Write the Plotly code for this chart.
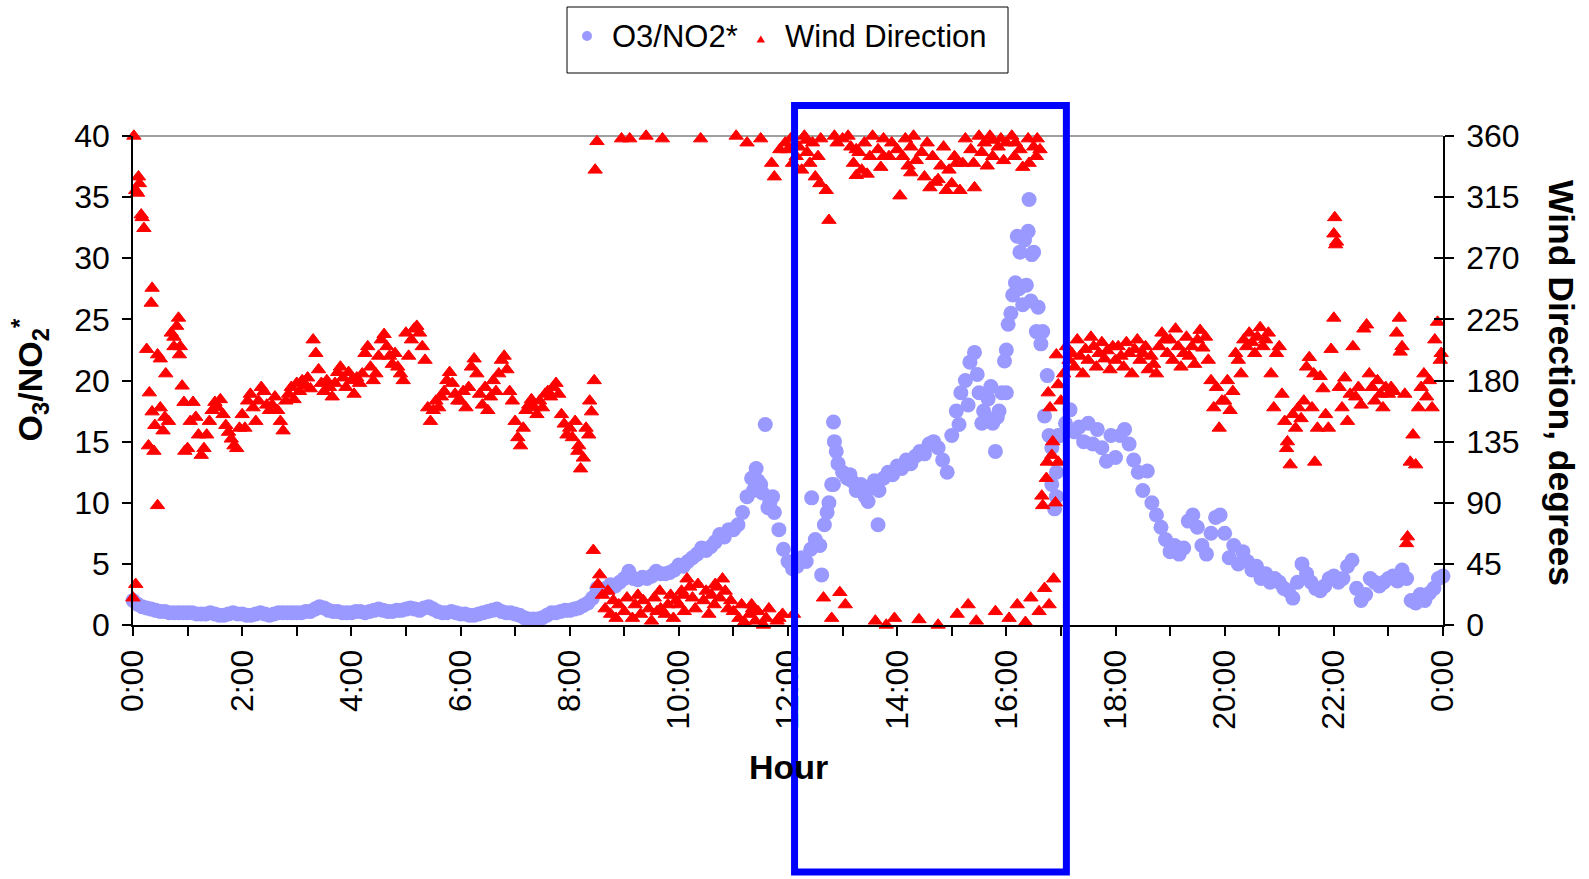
import plotly.graph_objects as go

# ---------------- data ----------------
# wind direction (degrees), one reading every 3 minutes from 0:00
WIND_STEP_MIN = 3
wind_direction = [
    # 0:00
    20, 320, 330, 302, 292, 203, 171, 248, 147, 199, 160, 143, 185, 150, 215, 205, 220, 199, 176, 128,
    # 1:00
    130, 150, 164, 153, 140, 125, 130, 140, 150, 158, 164, 160, 166, 155, 147, 142, 137, 132, 130, 145,
    # 2:00
    155, 145, 165, 170, 160, 150, 165, 175, 172, 162, 158, 162, 168, 158, 150, 143, 165, 170, 175, 166,
    # 3:00
    178, 172, 180, 176, 182, 174, 210, 200, 188, 178, 172, 180, 175, 168, 178, 186, 190, 182, 175, 186,
    # 4:00
    180, 170, 182, 178, 185, 200, 205, 190, 180, 185, 198, 210, 214, 205, 198, 192, 200, 190, 185, 180,
    # 5:00
    215, 198, 210, 218, 220, 215, 205, 195, 160, 150, 158, 165, 160, 168, 172, 180, 186, 178, 170, 165,
    # 6:00
    165, 172, 160, 175, 190, 196, 185, 170, 162, 175, 158, 168, 180, 172, 185, 195, 198, 188, 172, 165,
    # 7:00
    150, 138, 132, 145, 158, 162, 166, 160, 155, 165, 160, 170, 172, 168, 175, 178, 170, 155, 148, 140,
    # 8:00
    145, 138, 150, 128, 115, 123, 145, 140, 157, 180, 356, 37, 22, 12, 25, 8, 18, 5, 15, 358,
    # 9:00
    10, 20, 358, 5, 15, 22, 8, 18, 360, 12, 3, 20, 10, 25, 358, 8, 15, 22, 5, 18,
    # 10:00
    15, 25, 10, 34, 28, 20, 12, 30, 358, 18, 25, 8, 22, 15, 28, 20, 34, 25, 12, 18,
    # 11:00
    10, 360, 5, 15, 2, 355, 8, 12, 3, 10, 358, 0, 5, 12, 340, 330, 3, 350, 8, 355,
    # 12:00
    350, 358, 8, 345, 352, 335, 360, 348, 340, 355, 330, 345, 358, 20, 320, 298, 5, 360, 355, 24,
    # 13:00
    358, 15, 360, 352, 340, 331, 348, 335, 355, 332, 345, 360, 3, 350, 337, 358, 0, 345, 355, 5,
    # 14:00
    350, 316, 345, 358, 338, 352, 360, 342, 4, 348, 330, 355, 322, 345, 326, 0, 338, 352, 320, 335,
    # 15:00
    325, 345, 8, 320, 340, 358, 15, 350, 340, 3, 360, 348, 355, 338, 360, 345, 10, 352, 358, 342,
    # 16:00
    355, 5, 360, 345, 15, 350, 337, 2, 358, 20, 352, 345, 10, 95, 27, 120, 160, 135, 90, 177,
    # 17:00
    165, 185, 205, 195, 200, 190, 210, 198, 185, 203, 195, 212, 205, 190, 200, 208, 196, 202, 188, 205,
    # 18:00
    195, 205, 198, 190, 208, 200, 185, 203, 210, 195, 200, 205, 188, 198, 192, 185, 205, 215, 210, 200,
    # 19:00
    210, 195, 218, 205, 190, 200, 212, 198, 205, 192, 210, 217, 204, 212, 195, 180, 160, 175, 145, 165,
    # 20:00
    165, 180, 158, 172, 200, 195, 185, 210, 205, 215, 208, 200, 212, 219, 205, 210, 215, 185, 160, 200,
    # 21:00
    205, 170, 150, 135, 118, 155, 145, 160, 152, 165, 190, 197, 160, 120, 145, 183, 174, 155, 145, 203,
    # 22:00
    288, 282, 175, 160, 182, 150, 170, 205, 168, 175, 162, 218, 221, 185, 175, 165, 180, 170, 160, 175,
    # 23:00
    170, 175, 172, 215, 226, 205, 170, 65, 120, 140, 118, 160, 175, 185, 168, 180, 160, 210, 223, 195,
]

# additional scattered wind readings
wind_extra_time = ["0:01", "0:03", "0:05", "0:07", "0:10", "0:17", "0:20", "0:21", "0:23", "0:27",
                   "0:30", "0:35", "0:45", "0:50", "0:52", "0:56",
                   "8:10", "8:22", "8:26", "8:28", "8:31",
                   "9:40", "10:05", "10:40", "11:20", "11:50",
                   "12:05", "12:20", "12:35", "13:15", "13:45", "14:15", "14:45", "15:05", "15:25",
                   "15:45", "16:10", "16:25",
                   "16:34", "16:37", "16:40", "16:44", "16:46", "16:47", "16:50", "16:52", "16:55", "16:57",
                   "21:08", "21:38", "22:00", "22:01", "22:02", "23:13", "23:20", "23:58"]
wind_extra_deg = [360, 30, 318, 325, 300, 132, 237, 157, 128, 88,
                  196, 153, 212, 226, 205, 164,
                  132, 165, 55, 335, 30,
                  12, 22, 30, 15, 5,
                  340, 357, 325, 350, 345, 333, 328, 340, 322,
                  357, 355, 340,
                  358, 350, 88, 108, 171, 15, 125, 34, 199, 120,
                  130, 185, 226, 300, 280, 201, 60, 200]

# O3/NO2* ratio, one value every 5 minutes from 0:00 to 24:00
RATIO_STEP_MIN = 5
o3_no2_ratio = [
    # 0:00
    2.0, 1.7, 1.5, 1.4, 1.3, 1.2, 1.1, 1.1, 1.0, 1.0, 1.0, 1.0,
    # 1:00
    1.0, 1.0, 0.9, 0.9, 0.9, 1.0, 0.9, 0.8, 0.8, 0.9, 1.0, 0.9,
    # 2:00
    0.9, 0.8, 0.8, 0.9, 1.0, 0.9, 0.8, 0.9, 1.0, 1.0, 1.0, 1.0,
    # 3:00
    1.0, 1.0, 1.1, 1.1, 1.3, 1.5, 1.4, 1.2, 1.1, 1.1, 1.0, 1.0,
    # 4:00
    1.0, 1.1, 1.1, 1.0, 1.1, 1.2, 1.3, 1.2, 1.1, 1.1, 1.2, 1.2,
    # 5:00
    1.3, 1.4, 1.3, 1.2, 1.4, 1.5, 1.3, 1.1, 1.0, 1.0, 1.1, 1.0,
    # 6:00
    0.9, 0.9, 0.8, 0.8, 0.9, 1.0, 1.1, 1.2, 1.3, 1.1, 1.0, 1.0,
    # 7:00
    0.9, 0.8, 0.6, 0.5, 0.5, 0.5, 0.6, 0.8, 1.0, 1.0, 1.1, 1.2,
    # 8:00
    1.2, 1.3, 1.4, 1.6, 1.8, 2.2, 3.0, 2.9, 3.0, 3.3, 3.2, 3.5,
    # 9:00
    3.8, 4.4, 3.8, 3.7, 3.9, 3.8, 4.0, 4.4, 4.2, 4.2, 4.3, 4.5,
    # 10:00
    4.9, 4.8, 5.2, 5.5, 5.8, 6.3, 6.1, 6.4, 6.8, 7.4, 7.2, 7.8,
    # 11:00
    7.8, 8.2, 9.2, 10.5, 12.0, 12.8, 11.5, 16.4, 10.0, 9.2, 7.8, 6.2,
    # 12:00
    5.2, 4.6, 4.8, 5.5, 5.2, 6.2, 7.0, 6.5, 8.2, 10.0, 11.5, 13.2,
    # 13:00
    12.5, 12.0, 11.8, 11.0, 11.5, 10.5, 11.2, 11.8, 11.0, 12.0, 12.5, 12.3,
    # 14:00
    13.0, 12.8, 13.5, 13.2, 13.8, 14.2, 14.0, 14.8, 15.0, 14.5, 13.5, 12.5,
    # 15:00
    15.5, 17.5, 19.0, 20.0, 21.5, 22.3, 19.0, 17.5, 18.5, 16.5, 17.0, 19.0,
    # 16:00
    22.5, 25.5, 28.0, 30.5, 31.5, 34.8, 30.5, 26.0, 24.0, 20.4, 14.5, 10.5,
    # 17:00
    15.5, 16.5, 17.6, 15.8, 16.2, 15.0, 16.5, 14.8, 16.0, 14.5, 13.4, 15.5,
    # 18:00
    13.7, 15.5, 16.0, 14.8, 13.5, 12.5, 11.0, 12.6, 10.0, 9.0, 8.0, 7.0,
    # 19:00
    6.0, 6.5, 5.8, 6.3, 8.5, 9.0, 8.0, 6.5, 5.8, 7.5, 8.8, 9.0,
    # 20:00
    7.5, 5.5, 6.5, 5.0, 6.0, 5.2, 4.5, 4.8, 3.8, 4.2, 3.5, 3.8,
    # 21:00
    3.5, 3.0, 2.8, 2.2, 3.5, 5.0, 4.2, 3.5, 3.0, 2.8, 3.2, 3.8,
    # 22:00
    4.0, 3.5, 3.8, 4.8, 5.3, 3.0, 2.0, 2.5, 3.8, 3.5, 3.2, 3.5,
    # 23:00
    3.8, 4.0, 3.6, 4.5, 3.8, 2.0, 1.8, 2.5, 2.0, 2.6, 3.0, 3.8,
    # 24:00
    4.0,
]

ratio_extra_time = ["11:22", "11:27", "11:32", "11:38", "11:43",
                    "12:26", "12:37", "12:43", "12:48", "12:50", "12:51", "12:53",
                    "13:08", "13:28", "13:39",
                    "15:08", "15:18", "15:28", "15:33", "15:38", "15:43", "15:48", "15:52", "15:58",
                    "16:00", "16:02", "16:07", "16:12", "16:14", "16:18", "16:22", "16:24", "16:27",
                    "16:28", "16:33", "16:38", "16:42", "16:47", "16:50", "16:53", "16:55", "16:57"]
ratio_extra_val = [11.0, 11.8, 10.8, 9.6, 10.5,
                   10.4, 4.1, 9.2, 11.5, 16.6, 15.0, 14.2,
                   12.3, 10.1, 8.2,
                   16.4, 18.0, 20.5, 16.5, 17.0, 19.5, 14.2, 17.5, 21.6,
                   19.0, 24.6, 27.0, 31.8, 27.5, 26.2, 27.8, 32.2, 26.5,
                   30.3, 24.0, 23.0, 17.1, 15.5, 11.5, 9.5, 12.5, 15.5]

# axis ticks (labels every 2 hours, minor ticks every hour)
hour_tick_vals = [0, 2, 4, 6, 8, 10, 12, 14, 16, 18, 20, 22, 24]
hour_tick_text = ["0:00", "2:00", "4:00", "6:00", "8:00", "10:00", "12:00",
                  "14:00", "16:00", "18:00", "20:00", "22:00", "0:00"]

# highlighted period (hours) and its vertical extent (left-axis units)
highlight_hours = [12.12, 17.10]
highlight_ratio = [-20.2, 42.5]


# ---------------- helpers ----------------
def hhmm(t):
    h, m = t.split(":")
    return int(h) + int(m) / 60.0


wind_hours = [i * WIND_STEP_MIN / 60.0 for i in range(len(wind_direction))] + [hhmm(t) for t in wind_extra_time]
wind_vals = wind_direction + wind_extra_deg
ratio_hours = [i * RATIO_STEP_MIN / 60.0 for i in range(len(o3_no2_ratio))] + [hhmm(t) for t in ratio_extra_time]
ratio_vals = o3_no2_ratio + ratio_extra_val

W, H = 1589, 879
L, R, T, B = 133, 146, 136, 254
PW, PH = W - L - R, H - T - B


def px(X):
    return (X - L) / PW


def py(Y):
    return (H - B - Y) / PH


FONT = "Liberation Sans, Arial, sans-serif"
BLUE_DOT = "#9999FF"
RED = "#FF0000"

fig = go.Figure()
fig.add_trace(go.Scatter(
    x=ratio_hours, y=ratio_vals, mode="markers", name="O3/NO2*",
    marker=dict(symbol="circle", size=15, color=BLUE_DOT, line=dict(width=0)),
    cliponaxis=False, yaxis="y", showlegend=False,
))
fig.add_trace(go.Scatter(
    x=wind_hours, y=wind_vals, mode="markers", name="Wind Direction",
    marker=dict(symbol="triangle-up", size=12.5, color=RED, line=dict(width=1, color=RED)),
    cliponaxis=False, yaxis="y2", showlegend=False,
))
# helper trace so the tick-only right axis (inside half of crossing ticks) is drawn
fig.add_trace(go.Scatter(x=[None], y=[None], yaxis="y3", showlegend=False, hoverinfo="skip"))

axis_common = dict(showgrid=False, zeroline=False, color="black",
                   tickfont=dict(family=FONT, size=32, color="black"))

fig.update_layout(
    width=W, height=H,
    margin=dict(l=L, r=R, t=T, b=B, pad=0, autoexpand=False),
    paper_bgcolor="white", plot_bgcolor="white",
    font=dict(family=FONT, size=32, color="black"),
    showlegend=False,
    xaxis=dict(range=[0, 24], tickmode="array", tickvals=hour_tick_vals, ticktext=hour_tick_text,
               tickangle=-90, ticks="outside", ticklen=9, tickwidth=1.5, tickcolor="black",
               minor=dict(tickmode="linear", tick0=0, dtick=1, ticks="outside", ticklen=9,
                          tickwidth=1.5, tickcolor="black", showgrid=False),
               showline=True, linecolor="black", linewidth=2, ticklabelstandoff=1, **axis_common),
    yaxis=dict(range=[0, 40], tick0=0, dtick=5, ticks="outside", ticklen=9, tickwidth=1.5,
               tickcolor="black", showline=True, linecolor="black", linewidth=1.5,
               ticklabelstandoff=6, **axis_common),
    yaxis2=dict(range=[0, 360], tick0=0, dtick=45, overlaying="y", side="right", anchor="x",
                ticks="outside", ticklen=9, tickwidth=1.5, tickcolor="black",
                showline=True, linecolor="black", linewidth=1.5, ticklabelstandoff=6, **axis_common),
    yaxis3=dict(range=[0, 360], tick0=0, dtick=45, overlaying="y", side="right", anchor="x",
                ticks="inside", ticklen=9, tickwidth=1.5, tickcolor="black",
                showline=False, showticklabels=False, showgrid=False, zeroline=False),
)

shapes = [
    # grey top border
    dict(type="line", xref="paper", yref="paper", x0=0, x1=1, y0=1, y1=1,
         line=dict(color="#808080", width=1.5), layer="below"),
    # highlighted period rectangle
    dict(type="rect", xref="paper", yref="paper",
         x0=highlight_hours[0] / 24.0, x1=highlight_hours[1] / 24.0,
         y0=highlight_ratio[0] / 40.0, y1=highlight_ratio[1] / 40.0,
         line=dict(color="#0000FF", width=7), fillcolor="rgba(0,0,0,0)", layer="above"),
    # legend box
    dict(type="rect", xref="paper", yref="paper", x0=px(567), x1=px(1008), y0=py(73), y1=py(7),
         line=dict(color="black", width=1), fillcolor="white", layer="above"),
    # legend circle symbol
    dict(type="circle", xref="paper", yref="paper", x0=px(582), x1=px(592), y0=py(41), y1=py(31),
         line=dict(width=0), fillcolor=BLUE_DOT, layer="above"),
    # legend triangle symbol
    dict(type="path", xref="paper", yref="paper",
         path=f"M {px(756.5)} {py(42.5)} L {px(765)} {py(42.5)} L {px(760.8)} {py(35.5)} Z",
         line=dict(width=0), fillcolor=RED, layer="above"),
]
fig.update_layout(shapes=shapes)

annotations = [
    dict(text="O3/NO2*", xref="paper", yref="paper", x=px(610), y=py(36.5), xanchor="left",
         yanchor="middle", showarrow=False, font=dict(family=FONT, size=31, color="black")),
    dict(text="Wind Direction", xref="paper", yref="paper", x=px(783), y=py(36.5), xanchor="left",
         yanchor="middle", showarrow=False, font=dict(family=FONT, size=31, color="black")),
    dict(text="<b>Hour</b>", xref="paper", yref="paper", x=0.5, y=py(767), xanchor="center",
         yanchor="middle", showarrow=False, font=dict(family=FONT, size=34, color="black")),
    dict(text="<b>O<sub>3</sub>/NO<sub>2</sub><sup>*</sup></b>", xref="paper", yref="paper",
         x=px(29), y=0.5, xanchor="center", yanchor="middle", textangle=-90, showarrow=False,
         font=dict(family=FONT, size=34, color="black")),
    dict(text="<b>Wind Direction, degrees</b>", xref="paper", yref="paper",
         x=px(1561), y=py(383), xanchor="center", yanchor="middle", textangle=90, showarrow=False,
         font=dict(family=FONT, size=35.5, color="black")),
]
fig.update_layout(annotations=annotations)

fig.write_html("out.html", include_plotlyjs=True, config={"displayModeBar": False},
               post_script="document.body.style.margin='0';document.body.style.overflow='hidden';")
